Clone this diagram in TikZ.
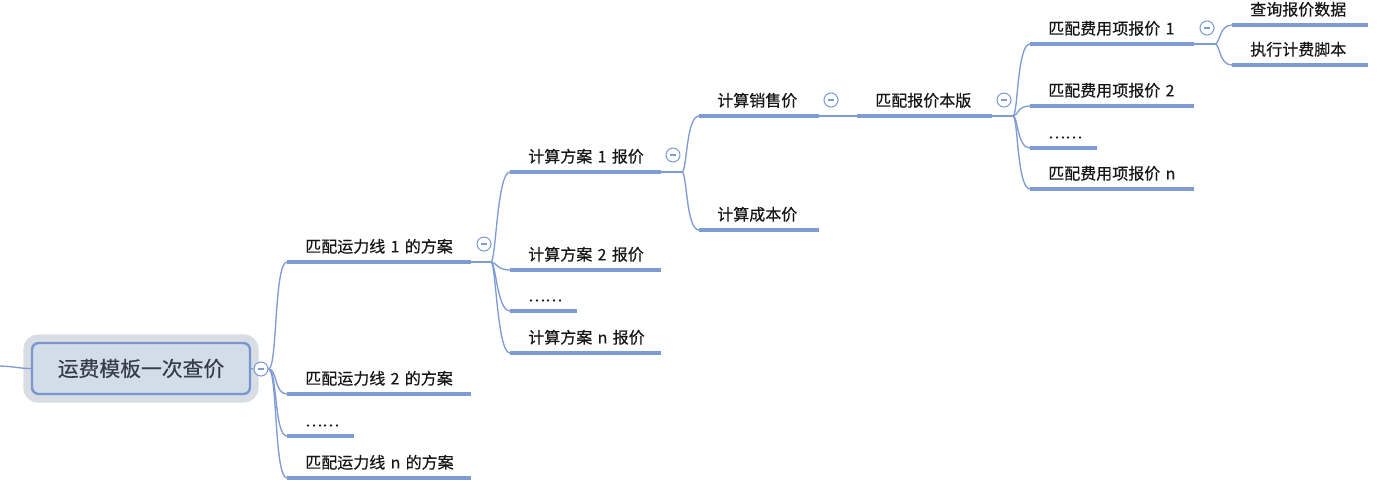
\documentclass[tikz,border=0pt]{standalone}
\usepackage{fontspec}
\newfontfamily\cjk[FakeBold=0.4]{Noto Sans CJK SC}
\definecolor{mline}{HTML}{7F9BD3}
\definecolor{rootfill}{HTML}{D3DDEA}
\definecolor{rootedge}{HTML}{7A96CE}
\definecolor{halo}{HTML}{D8DDE3}
\definecolor{roottext}{HTML}{353C4A}
\definecolor{ink}{HTML}{161616}
\tikzset{
  conn/.style={draw=mline, line width=1pt},
  uline/.style={draw=mline, line width=2.4pt},
  topic/.style={anchor=south west, inner xsep=0pt, inner ysep=7pt, text depth=0pt,
    text width=#1, align=left, text=ink, font=\cjk\fontsize{12}{14}\selectfont,
    execute at begin node={\noindent\hspace*{13.5pt}},
    append after command={(\tikzlastnode.south west) edge[uline] (\tikzlastnode.south east)}},
  rootbox/.style={rounded corners=5pt, fill=rootfill, draw=rootedge, line width=1.8pt,
    minimum width=163.5pt, minimum height=38.25pt, text=roottext,
    font=\cjk\fontsize{15.6}{18}\selectfont,
    preaction={draw=halo, line width=13pt}},
  toggle/.style={circle, draw=mline, fill=white, line width=0.8pt, minimum size=10.5pt,
    inner sep=0pt, path picture={\draw[mline, line width=0.8pt]
      ([xshift=-2.6pt]path picture bounding box.center) --
      ([xshift=2.6pt]path picture bounding box.center);}}
}
\begin{document}
\begin{tikzpicture}[x=0.75pt, y=-0.75pt]
\useasboundingbox (0,0) rectangle (1400,501);

% root
\node[rootbox] (root) at (141,368.5) {运费模板一次查价};
\coordinate (ext) at (-2,366);
\node[toggle] (c0) at (261,369) {};

% first level
\node[topic=137.25pt] (p1) at (287,262) {匹配运力线 1 的方案};
\node[topic=137.25pt] (p2) at (287,394) {匹配运力线 2 的方案};
\node[topic=49.5pt]   (p3) at (287,436) {……};
\node[topic=137.25pt] (pn) at (287,478) {匹配运力线 n 的方案};
\node[toggle] (c1) at (484,244) {};
\coordinate (b1) at (491,262);

% second level
\node[topic=112.5pt] (s1) at (510,172) {计算方案 1 报价};
\node[topic=112.5pt] (s2) at (510,270) {计算方案 2 报价};
\node[topic=49.5pt]  (s3) at (510,311) {……};
\node[topic=112.5pt] (sn) at (510,353) {计算方案 n 报价};
\node[toggle] (c2) at (673,155) {};
\coordinate (b2) at (682,172);

% third level
\node[topic=89.25pt] (sale) at (699,116) {计算销售价};
\node[topic=89.25pt] (cost) at (699,230) {计算成本价};
\node[toggle] (c3) at (831,100) {};

\node[topic=100.5pt] (ver) at (857,116) {匹配报价本版};
\node[toggle] (c4) at (1004,100) {};
\coordinate (b4) at (1013,116);

% fee items
\node[topic=122.25pt] (f1) at (1030,44)  {匹配费用项报价 1};
\node[topic=122.25pt] (f2) at (1030,106) {匹配费用项报价 2};
\node[topic=50pt]     (f3) at (1030,148) {……};
\node[topic=122.25pt] (fn) at (1030,189) {匹配费用项报价 n};
\node[toggle] (c5) at (1207,28) {};
\coordinate (b5) at (1215,44);

\node[topic=101.25pt] (q1) at (1232,25) {查询报价数据};
\node[topic=101.25pt] (q2) at (1232,65) {执行计费脚本};

% connectors
\draw[conn] (ext) .. controls +(14,0) and +(-12,0) .. (root.west);
\draw[conn] (root.east) -- (c0.west);
\foreach \t in {p1,p2,p3,pn}
  \draw[conn] (c0.east) .. controls +(9,0) and +(-13,0) .. (\t.south west);

\draw[conn] (p1.south east) -- (b1);
\foreach \t in {s1,s2,s3,sn}
  \draw[conn] (b1) .. controls +(5,0) and +(-13,0) .. (\t.south west);

\draw[conn] (s1.south east) -- (b2);
\foreach \t in {sale,cost}
  \draw[conn] (b2) .. controls +(5,0) and +(-13,0) .. (\t.south west);

\draw[conn] (sale.south east) -- (ver.south west);

\draw[conn] (ver.south east) -- (b4);
\foreach \t in {f1,f2,f3,fn}
  \draw[conn] (b4) .. controls +(5,0) and +(-13,0) .. (\t.south west);

\draw[conn] (f1.south east) -- (b5);
\foreach \t in {q1,q2}
  \draw[conn] (b5) .. controls +(5,0) and +(-13,0) .. (\t.south west);
\end{tikzpicture}
\end{document}
